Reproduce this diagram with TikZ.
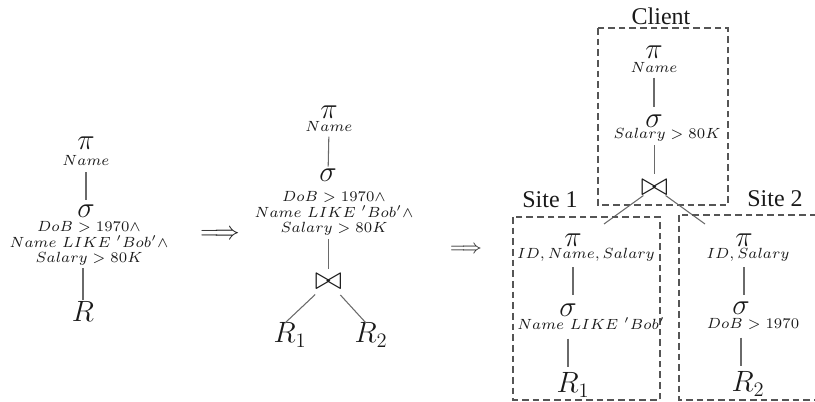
\RequirePackage{fix-cm}
\documentclass[tikz,border=0pt]{standalone}
\usepackage{graphicx}
\usepackage{fontspec}
\newfontfamily\timesf{Liberation Serif}
\definecolor{txt}{HTML}{1A1A1A}
\definecolor{edgec}{HTML}{6A6A6A}
\definecolor{boxc}{HTML}{555555}
\newcommand\lbl[1]{\scalebox{1.58}{\fontsize{7}{7.1}\selectfont\begin{tabular}{@{}c@{}}#1\end{tabular}}}
\tikzset{
  big/.style={inner sep=0pt, font=\fontsize{22}{24}\selectfont, text=txt},
  bowtienode/.style={inner sep=0pt, font=\fontsize{25}{27}\selectfont, text=txt},
  lab/.style={inner sep=0pt, text=txt},
  edge/.style={draw=edgec, line width=0.8pt},
  region/.style={draw=boxc, dash pattern=on 5pt off 3pt, line width=0.8pt},
  sitelab/.style={inner sep=0pt, anchor=base, font=\timesf\fontsize{18}{20}\selectfont, text=txt},
  implies/.style={inner sep=0pt, text=txt},
}
\begin{document}
\begin{tikzpicture}[x=0.75pt,y=-0.75pt]
\useasboundingbox (0,0) rectangle (815,402);
\clip (0,0) rectangle (815,402);
% ---------- left tree
\node[big] (pA) at (86,143) {$\pi$};
\node[lab] (nA) at (86,163) {\lbl{$Name$}};
\node[big] (sA) at (86,211) {$\sigma$};
\node[lab] (cA) at (89,244) {\lbl{$DoB > 1970\wedge$\\$Name\ LIKE\ 'Bob'\wedge$\\$Salary > 80K$}};
\node[big, anchor=base] (rA) at (83,322) {$R$};
\draw[edge, shorten <=1pt, shorten >=3.5pt] (nA) -- (sA);
\draw[edge, shorten <=0.5pt, shorten >=1.5pt] (cA.south -| rA) -- (rA);
\node[implies, font=\fontsize{19}{20}\selectfont] (ar1) at (220,235) {$\Longrightarrow$};
% ---------- middle tree
\node[big] (pB) at (329,112) {$\pi$};
\node[lab] (nB) at (329,129) {\lbl{$Name$}};
\node[big] (sB) at (328,175) {$\sigma$};
\node[lab] (cB) at (334,214) {\lbl{$DoB > 1970\wedge$\\$Name\ LIKE\ 'Bob'\wedge$\\$Salary > 80K$}};
\node[bowtienode] (jB) at (328.5,282) {$\bowtie$};
\node[big, anchor=base] (r1B) at (290,343) {$R_1$};
\node[big, anchor=base] (r2B) at (371,343) {$R_2$};
\coordinate (m1) at (285,323);
\coordinate (m2) at (366,323);
\draw[edge, shorten <=0pt, shorten >=1.3pt] (nB) -- (sB);
\draw[edge, shorten <=1pt, shorten >=4pt] (cB.south -| jB) -- (jB);
\draw[edge, shorten <=5pt] (jB) -- (m1);
\draw[edge, shorten <=5pt] (jB) -- (m2);
\node[implies, font=\fontsize{15}{16}\selectfont] (ar2) at (466,250) {$\Longrightarrow$};
% ---------- client
\node[sitelab] (client) at (661,25) {Client};
\draw[region] (598,28) rectangle (728,205);
\node[big] (pC) at (654,52) {$\pi$};
\node[lab] (nC) at (654,70) {\lbl{$Name$}};
\node[big] (sC) at (654,121) {$\sigma$};
\node[lab] (cC) at (667,136) {\lbl{$Salary > 80K$}};
\node[bowtienode] (jC) at (654.5,187.5) {$\bowtie$};
\draw[edge, shorten <=0pt, shorten >=5.5pt] (nC) -- (sC);
\draw[edge, shorten <=1pt, shorten >=4pt] (cC.south -| jC) -- (jC);
\coordinate (k1) at (604,224);
\coordinate (k2) at (705,224);
\draw[edge] (jC) -- (k1);
\draw[edge] (jC) -- (k2);
% ---------- site 1
\node[sitelab] (site1) at (550,208) {Site 1};
\draw[region] (513,217) rectangle (660,400);
\node[big] (pD) at (573,240) {$\pi$};
\node[lab] (aD) at (586,256) {\lbl{$ID, Name, Salary$}};
\node[big] (sD) at (568,310) {$\sigma$};
\node[lab] (cD) at (591,326) {\lbl{$Name\ LIKE\ 'Bob'$}};
\node[big, anchor=base] (rD) at (573,393) {$R_1$};
\draw[edge, shorten <=2.5pt, shorten >=6pt] (aD.south -| pD) -- (sD.north -| pD);
\draw[edge, shorten <=3pt, shorten >=4.5pt] (cD.south -| sD) -- (rD.north -| sD);
% ---------- site 2
\node[sitelab] (site2) at (775,207) {Site 2};
\draw[region] (679,215) rectangle (840,400);
\node[big] (pE) at (744,240) {$\pi$};
\node[lab] (aE) at (748,256) {\lbl{$ID, Salary$}};
\node[big] (sE) at (741,308) {$\sigma$};
\node[lab] (cE) at (753,326) {\lbl{$DoB > 1970$}};
\node[big, anchor=base] (rE) at (748,392) {$R_2$};
\draw[edge, shorten <=2.5pt, shorten >=5pt] (aE.south -| pE) -- (sE.north -| pE);
\draw[edge, shorten <=3pt, shorten >=4.5pt] (cE.south -| sE) -- (rE.north -| sE);
\end{tikzpicture}
\end{document}
